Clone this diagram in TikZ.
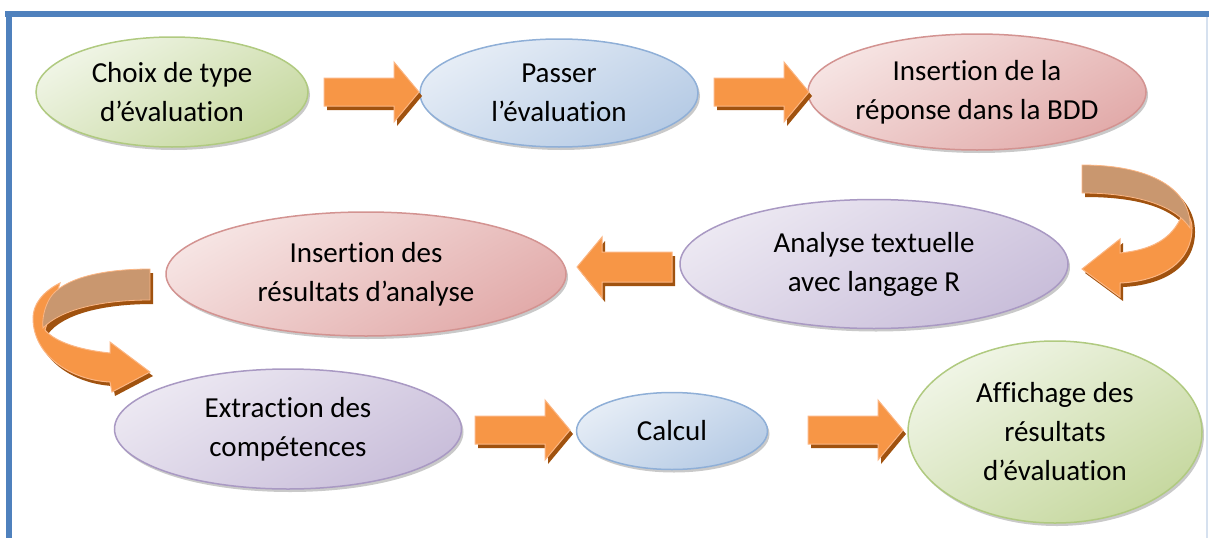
\documentclass[tikz,border=0pt]{standalone}
\usepackage{fontspec}
\setmainfont[Ligatures=NoCommon]{Carlito}
\usetikzlibrary{shapes.geometric,shadows}

\definecolor{frameblue}{HTML}{4F81BD}
\definecolor{framelight}{HTML}{D6E1EF}
\definecolor{grnL}{HTML}{F0F5E6}
\definecolor{grnD}{HTML}{C6D89F}
\definecolor{grnB}{HTML}{B0CA80}
\definecolor{bluL}{HTML}{E6EDF6}
\definecolor{bluD}{HTML}{B6CBE5}
\definecolor{bluB}{HTML}{8FAFD7}
\definecolor{redL}{HTML}{F6E4E3}
\definecolor{redD}{HTML}{E2ABAA}
\definecolor{redB}{HTML}{D39391}
\definecolor{purL}{HTML}{ECE8F2}
\definecolor{purD}{HTML}{C9BEDA}
\definecolor{purB}{HTML}{A999C3}
\definecolor{arrowOr}{HTML}{F79646}
\definecolor{arrowEdge}{HTML}{FBB684}
\definecolor{arrowDark}{HTML}{A0520F}
\definecolor{arrowBack}{HTML}{C9976F}

\tikzset{
  bubble/.style={ellipse, inner sep=-30pt, align=center,
    font=\fontsize{29}{39}\selectfont, line width=1.5pt,
    drop shadow={shadow xshift=2pt, shadow yshift=-3pt, opacity=0.3, fill=black!70}},
  greenbub/.style={bubble, draw=grnB, top color=grnL, bottom color=grnD, shading angle=30},
  bluebub/.style={bubble, draw=bluB, top color=bluL, bottom color=bluD, shading angle=30},
  redbub/.style={bubble, draw=redB, top color=redL, bottom color=redD, shading angle=30},
  purplebub/.style={bubble, draw=purB, top color=purL, bottom color=purD, shading angle=30},
  arrowshadow/.style={fill=arrowDark},
  arrowbody/.style={fill=arrowOr, draw=arrowEdge, line width=1pt, line join=miter},
  arrowbackface/.style={fill=arrowBack, draw=arrowEdge, line width=0.8pt},
  pics/rblock/.style={code={
    \fill[arrowshadow] (3,-10) -- (73,-10) -- (73,-26) -- (98,4) -- (73,34) -- (73,18) -- (3,18) -- cycle;
    \path[arrowbody] (0,-14) -- (70,-14) -- (70,-30) -- (95,0) -- (70,30) -- (70,14) -- (0,14) -- cycle;
  }},
  pics/lblock/.style={code={
    \fill[arrowshadow] (3,-11) -- (-67,-11) -- (-67,-26) -- (-92,4) -- (-67,35) -- (-67,19) -- (3,19) -- cycle;
    \path[arrowbody] (0,-15) -- (-70,-15) -- (-70,-30) -- (-95,0) -- (-70,31) -- (-70,15) -- (0,15) -- cycle;
  }}
}

\begin{document}
\begin{tikzpicture}[x=1pt,y=-1pt]
  \useasboundingbox (0,0) rectangle (1209,538);

  % page frame
  \fill[frameblue] (5,11) rectangle (1209,17);
  \fill[frameblue] (6,11) rectangle (12,538);
  \draw[framelight, line width=1.5pt] (1207,17) -- (1207,538);

  % process steps
  \node[greenbub, minimum width=272pt, minimum height=110pt] (choix) at (172,92)
    {Choix de type\\d’évaluation};
  \node[bluebub, minimum width=278pt, minimum height=108pt] (passer) at (559,93)
    {Passer\\l’évaluation};
  \node[redbub, minimum width=338pt, minimum height=116pt] (bdd) at (977,92)
    {Insertion de la\\réponse dans la BDD};
  \node[purplebub, minimum width=388pt, minimum height=129pt] (analyse) at (874,264)
    {Analyse textuelle\\avec langage R};
  \node[redbub, minimum width=400pt, minimum height=124pt] (resultats) at (366,274)
    {Insertion des\\résultats d’analyse};
  \node[purplebub, minimum width=347pt, minimum height=120pt] (extraction) at (288,429)
    {Extraction des\\compétences};
  \node[bluebub, minimum width=191pt, minimum height=77pt] (calcul) at (672,431)
    {Calcul};
  \node[greenbub, minimum width=294pt, minimum height=182pt] (affichage) at (1055,432)
    {Affichage des\\résultats\\d’évaluation};

  % straight block arrows
  \pic at (324,92) {rblock};
  \pic at (714,92) {rblock};
  \pic at (672,267) {lblock};
  \pic at (475,430) {rblock};
  \pic at (808,430) {rblock};

  % curved arrow on the right (row 1 -> row 2)
  \begin{scope}[shift={(3,4)}]
    \fill[arrowshadow] (1082,165) .. controls (1160,165) and (1192,195) .. (1192,228)
      .. controls (1192,262) and (1162,281) .. (1120,283) -- (1120,297) -- (1082,269)
      -- (1120,239) -- (1120,253) .. controls (1150,250) and (1172,240) .. (1182,222)
      .. controls (1165,202) and (1130,193) .. (1082,193) -- cycle;
  \end{scope}
  \path[arrowbody] (1192,228) .. controls (1192,262) and (1162,281) .. (1120,283)
    -- (1120,297) -- (1082,269) -- (1120,239) -- (1120,253)
    .. controls (1150,250) and (1172,240) .. (1182,215)
    .. controls (1186,210) and (1192,218) .. (1192,228) -- cycle;
  \path[arrowbackface] (1082,165) .. controls (1160,165) and (1192,195) .. (1190,228)
    .. controls (1175,205) and (1135,193) .. (1082,193) -- cycle;

  % curved arrow on the left (row 2 -> row 3)
  \begin{scope}[shift={(3,4)}]
    \fill[arrowshadow] (150,269) .. controls (80,269) and (33,290) .. (33,318)
      .. controls (33,355) and (70,380) .. (110,382) -- (112,392) -- (150,372)
      -- (110,342) -- (110,353) .. controls (80,350) and (55,342) .. (45,330)
      .. controls (60,310) and (100,300) .. (150,300) -- cycle;
  \end{scope}
  \path[arrowbody] (60,283) .. controls (42,292) and (33,305) .. (33,318)
    .. controls (33,355) and (70,380) .. (110,382) -- (112,392) -- (150,372)
    -- (110,342) -- (110,353) .. controls (80,350) and (55,342) .. (45,330) -- cycle;
  \path[arrowbackface] (150,269) .. controls (100,269) and (62,279) .. (50,298)
    .. controls (44,308) and (42,320) .. (43,328)
    .. controls (60,310) and (100,300) .. (150,300) -- cycle;
\end{tikzpicture}
\end{document}
